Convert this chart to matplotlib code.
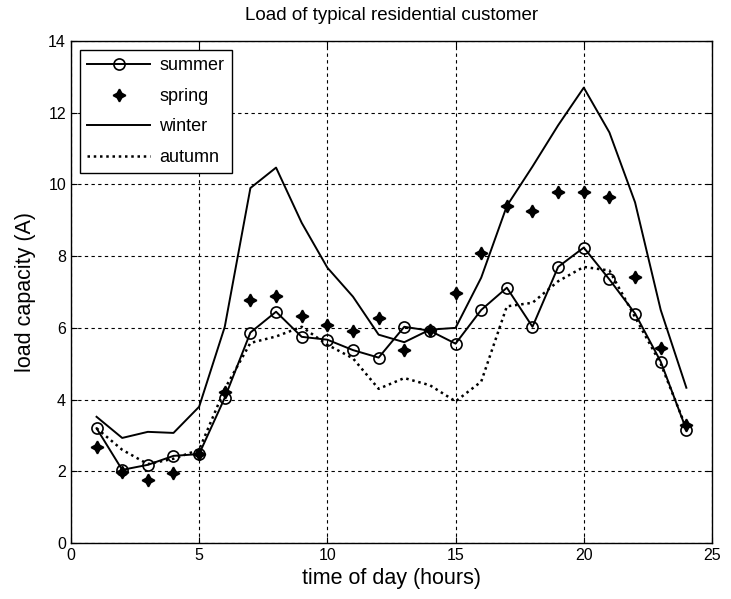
import matplotlib
matplotlib.use("Agg")
import matplotlib.pyplot as plt

plt.rcParams['font.family'] = ['Liberation Sans', 'DejaVu Sans']

hours = list(range(1, 25))

summer = [3.2, 2.04, 2.18, 2.43, 2.48, 4.05, 5.87, 6.45, 5.75, 5.67, 5.38, 5.17,
          6.03, 5.92, 5.56, 6.5, 7.12, 6.03, 7.7, 8.24, 7.35, 6.4, 5.06, 3.16]
spring = [2.69, 1.98, 1.75, 1.95, 2.48, 4.2, 6.77, 6.9, 6.34, 6.09, 5.92, 6.28,
          5.39, 5.95, 6.98, 8.1, 9.39, 9.25, 9.8, 9.8, 9.66, 7.43, 5.45, 3.3]
winter = [3.52, 2.93, 3.1, 3.07, 3.8, 6.03, 9.9, 10.47, 8.93, 7.68, 6.87, 5.81,
          5.6, 5.95, 6.0, 7.4, 9.4, 10.5, 11.65, 12.7, 11.45, 9.5, 6.5, 4.33]
autumn = [3.2, 2.6, 2.2, 2.35, 2.6, 4.3, 5.58, 5.76, 6.03, 5.53, 5.15, 4.3,
          4.6, 4.4, 3.95, 4.5, 6.6, 6.7, 7.3, 7.7, 7.6, 6.3, 5.0, 3.2]

fig = plt.figure(figsize=(7.31, 5.99), dpi=100)
ax = fig.add_axes([0.097, 0.0935, 0.877, 0.838])

ax.plot(hours, summer, color="black", lw=1.4, marker="o", ms=8,
        mfc="none", mec="black", mew=1.2, label="summer")
# MATLAB-style bold plus: 4-point star
ax.plot(hours, spring, color="black", ls="none", marker=(4, 1, 0), ms=9,
        mew=1.2, label="spring")
ax.plot(hours, winter, color="black", lw=1.4, label="winter")
ax.plot(hours, autumn, color="black", lw=1.8, ls=(0, (1, 1.5)), label="autumn")

ax.set_xlim(0, 25)
ax.set_ylim(0, 14)
ax.set_xticks([0, 5, 10, 15, 20, 25])
ax.set_yticks([0, 2, 4, 6, 8, 10, 12, 14])
ax.grid(True, color="black", ls=(0, (3, 3)), lw=0.8)
ax.tick_params(direction="in", top=True, right=True, labelsize=11.5, length=4)
for s in ax.spines.values():
    s.set_linewidth(1.0)

ax.set_title("Load of typical residential customer", fontsize=13.5, pad=15)
ax.set_xlabel("time of day (hours)", fontsize=15.5, labelpad=4)
ax.set_ylabel("load capacity (A)", fontsize=15.5, labelpad=9)

leg = ax.legend(loc="upper left", fontsize=13, frameon=True, fancybox=False,
                edgecolor="black", framealpha=1, borderaxespad=0.5,
                handlelength=3.5, handletextpad=0.5, labelspacing=0.75)
leg.get_frame().set_linewidth(1.0)

fig.savefig("out.png", dpi=100)
